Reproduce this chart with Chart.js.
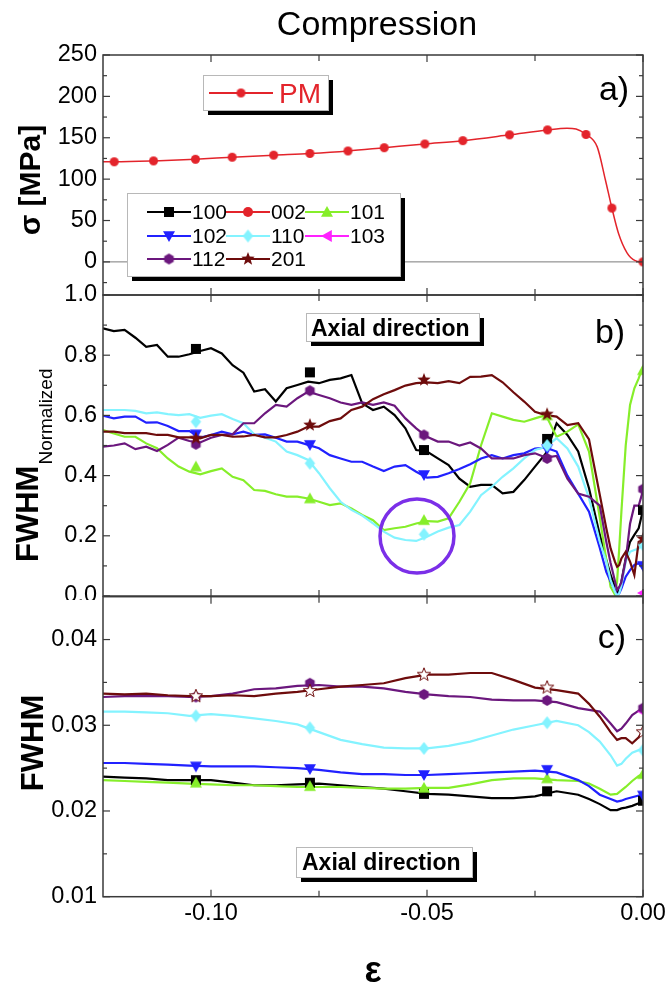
<!DOCTYPE html>
<html><head><meta charset="utf-8">
<script src="https://cdn.jsdelivr.net/npm/chart.js@4.4.1/dist/chart.umd.min.js"></script>
<style>
html,body{margin:0;padding:0;background:#fff;width:669px;height:988px;overflow:hidden}
.w{position:absolute;left:0;top:0;overflow:hidden}
canvas{position:absolute;left:0;top:0}
</style></head><body>
<div class="w" style="height:320px;width:669px"><canvas id="ca" width="669" height="320"></canvas></div>
<div class="w" style="height:600px;width:669px"><canvas id="cb" width="669" height="620"></canvas></div>
<div class="w" style="height:988px;width:669px"><canvas id="cc" width="669" height="988"></canvas></div>
<script>
const FF = "'Liberation Sans', Arial, Helvetica, sans-serif";
Chart.defaults.font.family = FF;
Chart.defaults.color = '#000';

// ---------- strain (x) values ----------
const epsB = [-0.125,-0.1225,-0.12,-0.1175,-0.115,-0.1125,-0.11,-0.1075,-0.105,-0.1025,
 -0.1,-0.0975,-0.095,-0.0925,-0.09,-0.0875,-0.085,-0.0825,-0.08,-0.0775,
 -0.075,-0.0725,-0.07,-0.0675,-0.065,-0.0625,-0.06,-0.0575,-0.055,-0.0525,
 -0.05,-0.0475,-0.045,-0.0425,-0.04,-0.0375,-0.035,-0.0325,-0.03,-0.0275,
 -0.025,-0.0225,-0.02,-0.0175,-0.015,-0.0125,-0.01,
 -0.0085,-0.0075,-0.0065,-0.006,-0.0055,-0.005,-0.004,-0.003,-0.002,-0.001,0];
const epsC = [-0.125,-0.12,-0.115,-0.11,-0.105,-0.1,-0.095,-0.09,-0.085,-0.08,
 -0.075,-0.07,-0.065,-0.06,-0.055,-0.05,-0.045,-0.04,-0.035,-0.03,
 -0.025,-0.02,-0.015,-0.0125,-0.01,-0.0075,-0.006,-0.005,-0.004,-0.0025,
 -0.001,0];
const epsMarks = [-0.1035,-0.0771,-0.0507,-0.0222,0];
const epsEnd = [0];

// ---------- panel a: stress, PM ----------
const pmEps  = [-0.125,-0.1224,-0.1133,-0.1036,-0.0951,-0.0855,-0.0771,-0.0683,-0.0599,-0.0505,-0.0417,-0.0309,-0.0221,-0.0176,-0.0155,-0.0132,-0.0106,-0.0087,-0.0072,-0.0057,-0.0037,-0.0018,0];
const pmVals = [121,121,122,124,126.5,129,131,134,138,142.5,146.5,153.5,159.5,161.5,160.5,154,139,99,65,35,11,1.5,0];
const pmMarkEps  = [-0.1224,-0.1133,-0.1036,-0.0951,-0.0855,-0.0771,-0.0683,-0.0599,-0.0505,-0.0417,-0.0309,-0.0221,-0.0132,-0.0072,0];
const pmMarkVals = [121,122,124,126.5,129,131,134,138,142.5,146.5,153.5,159.5,154,65,0];

// ---------- panel b: normalized FWHM ----------
const b100 = [0.889,0.880,0.884,0.858,0.828,0.834,0.795,0.795,0.803,0.814,
 0.823,0.806,0.767,0.742,0.679,0.687,0.646,0.690,0.701,0.712,
 0.707,0.718,0.723,0.734,0.640,0.618,0.629,0.601,0.557,0.485,
 0.480,0.457,0.435,0.390,0.363,0.369,0.369,0.341,0.346,0.385,
 0.430,0.474,0.574,0.535,0.480,0.358,0.203,
 0.120,0.070,0.030,0.009,0.020,0.048,0.125,0.180,0.203,0.225,0.286];
const b101 = [0.551,0.540,0.529,0.529,0.507,0.491,0.457,0.430,0.413,0.404,
 0.415,0.424,0.396,0.385,0.352,0.349,0.338,0.330,0.330,0.324,
 0.313,0.302,0.308,0.291,0.269,0.252,0.219,0.225,0.230,0.241,
 0.249,0.247,0.258,0.313,0.374,0.500,0.607,0.596,0.585,0.579,
 0.590,0.601,0.529,0.546,0.570,0.480,0.260,
 0.120,0.030,0.005,0.048,0.158,0.280,0.500,0.635,0.690,0.723,0.762];
const b102 = [0.599,0.590,0.596,0.596,0.576,0.577,0.565,0.548,0.548,0.526,
 0.535,0.546,0.537,0.546,0.535,0.537,0.526,0.513,0.513,0.502,
 0.491,0.468,0.457,0.446,0.446,0.430,0.415,0.430,0.435,0.413,
 0.393,0.396,0.408,0.422,0.438,0.457,0.468,0.457,0.468,0.474,
 0.490,0.493,0.480,0.400,0.340,0.280,0.160,
 0.080,0.048,0.020,0.003,0.009,0.025,0.064,0.086,0.103,0.109,0.092];
const b110 = [0.618,0.618,0.618,0.615,0.607,0.610,0.604,0.601,0.604,0.592,
 0.599,0.604,0.588,0.574,0.537,0.526,0.513,0.480,0.468,0.452,
 0.408,0.358,0.313,0.286,0.267,0.241,0.214,0.194,0.186,0.183,
 0.197,0.214,0.227,0.236,0.280,0.335,0.363,0.396,0.424,0.457,
 0.485,0.496,0.524,0.490,0.430,0.325,0.180,
 0.114,0.053,0.014,0.000,0.009,0.036,0.114,0.147,0.153,0.158,0.170];
const b112 = [0.496,0.500,0.507,0.488,0.496,0.482,0.502,0.526,0.515,0.510,
 0.526,0.535,0.537,0.574,0.574,0.607,0.635,0.629,0.657,0.679,
 0.668,0.657,0.643,0.635,0.643,0.635,0.643,0.632,0.590,0.557,
 0.529,0.513,0.513,0.500,0.510,0.490,0.457,0.457,0.457,0.468,
 0.474,0.460,0.465,0.390,0.340,0.330,0.300,
 0.180,0.110,0.050,0.020,0.030,0.045,0.120,0.240,0.300,0.300,0.350];
const b201 = [0.546,0.546,0.541,0.541,0.541,0.535,0.535,0.527,0.527,0.524,
 0.535,0.535,0.529,0.530,0.535,0.527,0.527,0.535,0.546,0.563,
 0.563,0.581,0.590,0.618,0.629,0.654,0.670,0.684,0.699,0.707,
 0.710,0.707,0.714,0.707,0.728,0.729,0.734,0.710,0.677,0.646,
 0.612,0.601,0.596,0.568,0.574,0.520,0.336,
 0.225,0.158,0.114,0.097,0.103,0.125,0.147,0.114,0.070,0.180,0.186];
const b103 = [0.01];
const mb100 = [0.821,0.743,0.485,0.522,0.286];
const mb101 = [0.430,0.324,0.252,0.600,0.750];
const mb102 = [0.537,0.502,0.402,0.488,0.100];
const mb110 = [0.579,0.441,0.205,0.500,0.170];
const mb112 = [0.504,0.682,0.535,0.457,0.355];
const mb201 = [0.524,0.568,0.718,0.604,0.190];

// ---------- panel c: FWHM ----------
const c100 = [0.0240,0.0239,0.0238,0.0236,0.0236,0.0236,0.0233,0.0230,0.0230,0.0231,
 0.0232,0.0230,0.0228,0.0226,0.0223,0.0220,0.0219,0.0217,0.0215,0.0215,
 0.0217,0.0223,0.0219,0.0214,0.0208,0.0201,0.0201,0.0203,0.0204,0.0206,0.0209,0.0212];
const c101 = [0.0236,0.0235,0.0234,0.0233,0.0232,0.0231,0.0230,0.0230,0.0229,0.0228,
 0.0228,0.0228,0.0227,0.0226,0.0226,0.0227,0.0227,0.0231,0.0236,0.0238,
 0.0238,0.0236,0.0235,0.0232,0.0226,0.0219,0.0220,0.0224,0.0228,0.0235,0.0241,0.0243];
const c102 = [0.0256,0.0256,0.0255,0.0254,0.0253,0.0252,0.0252,0.0252,0.0251,0.0250,
 0.0248,0.0245,0.0243,0.0243,0.0242,0.0242,0.0243,0.0244,0.0245,0.0246,
 0.0247,0.0245,0.0236,0.0229,0.0219,0.0214,0.0211,0.0212,0.0214,0.0216,0.0218,0.0218];
const c110 = [0.0316,0.0316,0.0315,0.0314,0.0311,0.0313,0.0311,0.0308,0.0305,0.0301,
 0.0292,0.0283,0.0278,0.0274,0.0273,0.0273,0.0276,0.0281,0.0288,0.0295,
 0.0300,0.0305,0.0300,0.0292,0.0281,0.0265,0.0253,0.0255,0.0261,0.0268,0.0271,0.0272];
const c112 = [0.0333,0.0334,0.0334,0.0334,0.0333,0.0334,0.0337,0.0342,0.0343,0.0346,
 0.0347,0.0345,0.0345,0.0343,0.0339,0.0336,0.0334,0.0333,0.0330,0.0329,
 0.0329,0.0327,0.0320,0.0318,0.0316,0.0302,0.0293,0.0296,0.0302,0.0312,0.0317,0.0320];
const c201 = [0.0337,0.0336,0.0337,0.0335,0.0334,0.0334,0.0335,0.0334,0.0337,0.0339,
 0.0342,0.0345,0.0347,0.0349,0.0355,0.0359,0.0359,0.0361,0.0361,0.0353,
 0.0344,0.0341,0.0337,0.0325,0.0310,0.0292,0.0283,0.0285,0.0285,0.0279,0.0286,0.0294];
const c103 = [0.0316];
const mc100 = [0.0236,0.0233,0.0220,0.0223,0.0212];
const mc101 = [0.0233,0.0229,0.0227,0.0238,0.0243];
const mc102 = [0.0252,0.0249,0.0242,0.0248,0.0218];
const mc110 = [0.0311,0.0297,0.0273,0.0303,0.0271];
const mc112 = [0.0333,0.0349,0.0336,0.0329,0.0320];
const mc201 = [0.0334,0.0340,0.0359,0.0344,0.0292];

// ---------- ticks ----------
const tickA = [0,50,100,150,200,250];
const minorA = [-25,25,75,125,175,225];
const tickB = [0.0,0.2,0.4,0.6,0.8,1.0];
const minorB = [0.1,0.3,0.5,0.7,0.9];
const tickC = [0.01,0.02,0.03,0.04];
const minorC = [0.015,0.025,0.035];
const tickX = [-0.10,-0.05,0.0];
const minorX = [-0.075,-0.025];

// ---------- styles ----------
const COL = {'100':'#000000','002':'#e3242b','101':'#86ee2a','102':'#2121ff','110':'#84f3ff','103':'#ff22ff','112':'#6b177d','201':'#6e0c0c'};
const TICKFONT = 23.5;

function mk(shape, s, fill, stroke, lw) {
  const pad = 3, W = Math.ceil(s + pad * 2);
  const c = document.createElement('canvas'); c.width = W; c.height = W;
  const g = c.getContext('2d'); const cx = W / 2, cy = W / 2, r = s / 2;
  g.beginPath();
  if (shape === 'sq') g.rect(cx - r, cy - r, s, s);
  else if (shape === 'ci') g.arc(cx, cy, r, 0, Math.PI * 2);
  else if (shape === 'up') { g.moveTo(cx, cy - r); g.lineTo(cx + r, cy + r * 0.8); g.lineTo(cx - r, cy + r * 0.8); g.closePath(); }
  else if (shape === 'dn') { g.moveTo(cx, cy + r); g.lineTo(cx + r, cy - r * 0.8); g.lineTo(cx - r, cy - r * 0.8); g.closePath(); }
  else if (shape === 'lf') { g.moveTo(cx - r, cy); g.lineTo(cx + r * 0.8, cy - r); g.lineTo(cx + r * 0.8, cy + r); g.closePath(); }
  else if (shape === 'di') { g.moveTo(cx, cy - r); g.lineTo(cx + r * 0.8, cy); g.lineTo(cx, cy + r); g.lineTo(cx - r * 0.8, cy); g.closePath(); }
  else if (shape === 'hx') { for (let i = 0; i < 6; i++) { const a = Math.PI / 6 + i * Math.PI / 3; const px = cx + r * Math.cos(a), py = cy + r * Math.sin(a); i ? g.lineTo(px, py) : g.moveTo(px, py); } g.closePath(); }
  else if (shape === 'st') { for (let i = 0; i < 10; i++) { const a = -Math.PI / 2 + i * Math.PI / 5; const rr = i % 2 ? r * 0.42 : r; const px = cx + rr * Math.cos(a), py = cy + rr * Math.sin(a); i ? g.lineTo(px, py) : g.moveTo(px, py); } g.closePath(); }
  g.fillStyle = fill; g.fill();
  if (stroke) { g.lineWidth = lw || 1; g.strokeStyle = stroke; g.stroke(); }
  return c;
}
const IMG = {
  '100': mk('sq', 10, COL['100']), '002': mk('ci', 10, COL['002']), '101': mk('up', 12, COL['101']),
  '102': mk('dn', 12, COL['102']), '110': mk('di', 13, COL['110']), '103': mk('lf', 12, COL['103']),
  '112': mk('hx', 11, COL['112']), '201': mk('st', 14, COL['201'])
};
const starHollow = mk('st', 14, '#ffffff', COL['201'], 1);
const pmImg = mk('ci', 9, COL['002']);

function pts(xs, ys) { return xs.map((x, i) => ({x: x, y: ys[i]})); }
function lineDS(xs, ys, key, k) { return {data: pts(xs, ys), showLine: true, borderColor: COL[key], borderWidth: 2.2, pointRadius: 0, tension: 0, order: 30 - k}; }
function markDS(xs, ys, img, k) { return {data: pts(xs, ys), showLine: false, pointStyle: img, pointRadius: 6, order: -k}; }

// ---------- plugins ----------
const framePlugin = {
  id: 'frameTicks',
  afterDatasetsDraw(chart, args, o) {
    const {ctx, chartArea: a, scales} = chart; const xs = scales.x, ys = scales.y;
    ctx.save();
    ctx.strokeStyle = '#3a3a3a'; ctx.lineWidth = 1.5;
    ctx.strokeRect(a.left, a.top, a.right - a.left, a.bottom - a.top);
    ctx.lineWidth = 1.2;
    const t = (x1, y1, x2, y2) => { ctx.beginPath(); ctx.moveTo(x1, y1); ctx.lineTo(x2, y2); ctx.stroke(); };
    [[tickX, 7], [minorX, 6]].forEach(([vals, len]) => vals.forEach(v => { const p = xs.getPixelForValue(v); t(p, a.top, p, a.top + len); t(p, a.bottom, p, a.bottom - len); }));
    [[o.yMajor, 7], [o.yMinor, 4]].forEach(([vals, len]) => vals.forEach(v => { const p = ys.getPixelForValue(v); t(a.left, p, a.left + len, p); t(a.right, p, a.right - len, p); }));
    ctx.restore();
  }
};
function shadowBox(ctx, x, y, w, h, off) {
  ctx.fillStyle = '#000'; ctx.fillRect(x + off, y + off, w, h);
  ctx.fillStyle = '#fff'; ctx.fillRect(x, y, w, h);
  ctx.strokeStyle = '#b8b8b8'; ctx.lineWidth = 1; ctx.strokeRect(x + 0.5, y + 0.5, w, h);
}
function legLine(ctx, x0, x1, y, color, img) {
  ctx.strokeStyle = color; ctx.lineWidth = 2; ctx.beginPath(); ctx.moveTo(x0, y); ctx.lineTo(x1, y); ctx.stroke();
  ctx.drawImage(img, (x0 + x1) / 2 - img.width / 2, y - img.height / 2);
}
const zeroLine = {
  id: 'zeroLine',
  beforeDatasetsDraw(chart) {
    const {ctx, chartArea: a, scales} = chart; const p = scales.y.getPixelForValue(0);
    ctx.save(); ctx.strokeStyle = '#7a7a7a'; ctx.lineWidth = 1; ctx.beginPath(); ctx.moveTo(a.left, p); ctx.lineTo(a.right, p); ctx.stroke(); ctx.restore();
  }
};
const annoA = {
  id: 'annoA',
  afterDraw(chart) {
    const ctx = chart.ctx; ctx.save();
    ctx.fillStyle = '#000'; ctx.textAlign = 'center'; ctx.textBaseline = 'alphabetic';
    ctx.font = '34px ' + FF; ctx.fillText('Compression', 377, 35);
    ctx.fillText('a)', 614, 100);
    ctx.save(); ctx.translate(40, 180); ctx.rotate(-Math.PI / 2);
    ctx.font = 'bold 30px ' + FF; ctx.fillText('σ [MPa]', 0, 0); ctx.restore();
    // PM legend
    shadowBox(ctx, 203, 75, 125, 35, 5);
    legLine(ctx, 209, 273, 93, COL['002'], pmImg);
    ctx.fillStyle = COL['002']; ctx.font = '28px ' + FF; ctx.textAlign = 'left'; ctx.fillText('PM', 279, 103);
    // series legend
    shadowBox(ctx, 127, 193, 273, 83, 5);
    const keys = ['100', '002', '101', '102', '110', '103', '112', '201'];
    const colX = [147, 226, 305], rowY = [212, 236, 259];
    ctx.font = '21px ' + FF; ctx.textBaseline = 'middle';
    keys.forEach((k, i) => {
      const x0 = colX[i % 3], y = rowY[Math.floor(i / 3)];
      legLine(ctx, x0, x0 + 44, y, COL[k], IMG[k]);
      ctx.fillStyle = '#000'; ctx.fillText(k, x0 + 45, y + 1);
    });
    ctx.restore();
  }
};
const annoB = {
  id: 'annoB',
  afterDraw(chart) {
    const ctx = chart.ctx; ctx.save();
    ctx.fillStyle = '#000'; ctx.textBaseline = 'alphabetic';
    ctx.save(); ctx.translate(38, 562); ctx.rotate(-Math.PI / 2);
    ctx.font = 'bold 31px ' + FF; ctx.textAlign = 'left'; ctx.fillText('FWHM', 0, 0);
    const w = ctx.measureText('FWHM').width;
    ctx.font = '19px ' + FF; ctx.fillText('Normalized', w + 1, 14); ctx.restore();
    ctx.textAlign = 'center'; ctx.font = '34px ' + FF; ctx.fillText('b)', 610, 343);
    shadowBox(ctx, 306, 313, 173, 28, 5);
    ctx.fillStyle = '#000'; ctx.textAlign = 'left'; ctx.font = 'bold 23px ' + FF; ctx.fillText('Axial direction', 311, 336);
    ctx.strokeStyle = '#7b2fe8'; ctx.lineWidth = 3.5; ctx.beginPath(); ctx.arc(417, 536, 37, 0, Math.PI * 2); ctx.stroke();
    ctx.restore();
  }
};
const annoC = {
  id: 'annoC',
  afterDraw(chart) {
    const ctx = chart.ctx; ctx.save();
    ctx.fillStyle = '#000'; ctx.textBaseline = 'alphabetic'; ctx.textAlign = 'center';
    ctx.save(); ctx.translate(43, 743); ctx.rotate(-Math.PI / 2);
    ctx.font = 'bold 31px ' + FF; ctx.fillText('FWHM', 0, 0); ctx.restore();
    ctx.font = '34px ' + FF; ctx.fillText('c)', 612, 648);
    ctx.font = 'bold 36px ' + FF; ctx.fillText('ε', 373, 982);
    shadowBox(ctx, 296, 847, 176, 30, 5);
    ctx.fillStyle = '#000'; ctx.textAlign = 'left'; ctx.font = 'bold 23px ' + FF; ctx.fillText('Axial direction', 302, 870);
    ctx.restore();
  }
};

function yScale(min, max, ticks, fmt) {
  return {type: 'linear', min: min, max: max,
    afterBuildTicks: s => { s.ticks = ticks.map(v => ({value: v})); },
    afterFit: s => { s.width = 103; },
    grid: {display: false, drawTicks: false}, border: {display: false},
    ticks: {padding: 6, autoSkip: false, color: '#000', font: {size: TICKFONT}, callback: fmt}};
}
function baseOpts(pad, y, x, frame) {
  return {responsive: false, animation: false, devicePixelRatio: 1, events: [],
    layout: {autoPadding: false, padding: pad},
    plugins: {legend: {display: false}, tooltip: {enabled: false}, frameTicks: frame},
    scales: {x: x, y: y}};
}
const xHidden = {type: 'linear', min: -0.125, max: 0, display: false};

// ---------- panel a ----------
new Chart(document.getElementById('ca'), {
  type: 'scatter',
  data: {datasets: [
    {data: pts(pmMarkEps, pmMarkVals), showLine: false, pointStyle: pmImg, pointRadius: 5, order: 0},
    {data: pts(pmEps, pmVals), showLine: true, borderColor: COL['002'], borderWidth: 1.5, pointRadius: 0, cubicInterpolationMode: 'monotone', order: 1}
  ]},
  options: baseOpts({left: 0, right: 26, top: 55, bottom: 25}, yScale(-40, 250, tickA, v => String(v)), xHidden, {yMajor: tickA, yMinor: minorA}),
  plugins: [zeroLine, framePlugin, annoA]
});

// ---------- panel b ----------
const dsB = [
  lineDS(epsB, b100, '100', 0), lineDS(epsB, b101, '101', 2), lineDS(epsB, b102, '102', 3),
  lineDS(epsB, b110, '110', 4), lineDS(epsB, b112, '112', 6), lineDS(epsB, b201, '201', 7),
  markDS(epsMarks, mb100, IMG['100'], 0), markDS(epsMarks, mb101, IMG['101'], 2), markDS(epsMarks, mb102, IMG['102'], 3),
  markDS(epsMarks, mb110, IMG['110'], 4), markDS(epsEnd, b103, IMG['103'], 5), markDS(epsMarks, mb112, IMG['112'], 6),
  markDS(epsMarks, mb201, IMG['201'], 7)
];
new Chart(document.getElementById('cb'), {
  type: 'scatter', data: {datasets: dsB},
  options: baseOpts({left: 0, right: 26, top: 295, bottom: 24}, yScale(0, 1, tickB, v => v.toFixed(1)), xHidden, {yMajor: tickB, yMinor: minorB}),
  plugins: [framePlugin, annoB]
});

// ---------- panel c ----------
const dsC = [
  lineDS(epsC, c100, '100', 0), lineDS(epsC, c101, '101', 2), lineDS(epsC, c102, '102', 3),
  lineDS(epsC, c110, '110', 4), lineDS(epsC, c112, '112', 6), lineDS(epsC, c201, '201', 7),
  markDS(epsMarks, mc100, IMG['100'], 0), markDS(epsMarks, mc101, IMG['101'], 2), markDS(epsMarks, mc102, IMG['102'], 3),
  markDS(epsMarks, mc110, IMG['110'], 4), markDS(epsEnd, c103, IMG['103'], 5), markDS(epsMarks, mc112, IMG['112'], 6),
  markDS(epsMarks, mc201, starHollow, 7)
];
const xC = {type: 'linear', min: -0.125, max: 0,
  afterBuildTicks: s => { s.ticks = tickX.map(v => ({value: v})); },
  afterFit: s => { s.height = 91.3; },
  grid: {display: false, drawTicks: false}, border: {display: false},
  ticks: {padding: 3, autoSkip: false, maxRotation: 0, color: '#000', font: {size: TICKFONT}, callback: v => Math.abs(v) < 1e-9 ? '0.00' : v.toFixed(2)}};
new Chart(document.getElementById('cc'), {
  type: 'scatter', data: {datasets: dsC},
  options: baseOpts({left: 0, right: 26, top: 596.7, bottom: 0}, yScale(0.01, 0.045, tickC, v => v.toFixed(2)), xC, {yMajor: tickC, yMinor: minorC}),
  plugins: [framePlugin, annoC]
});
</script></body></html>
